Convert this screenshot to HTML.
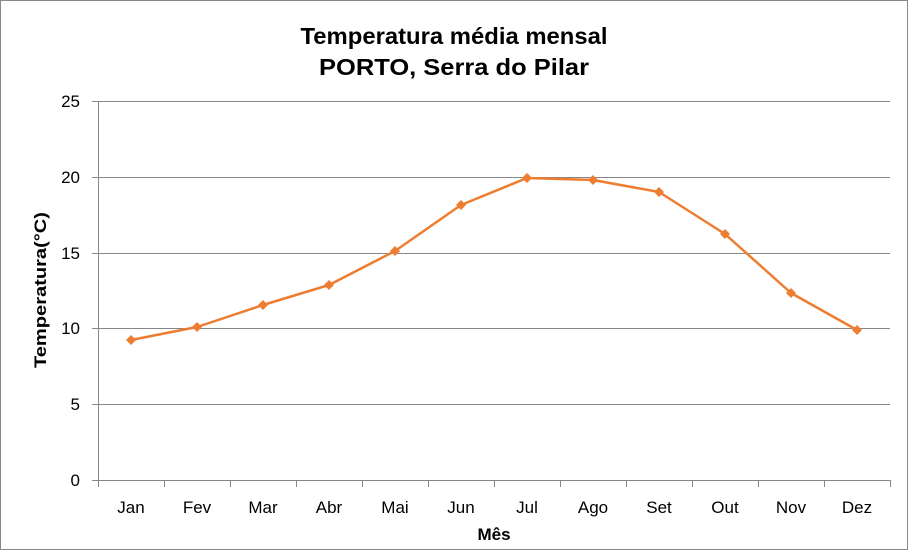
<!DOCTYPE html>
<html><head><meta charset="utf-8"><style>
html,body{margin:0;padding:0;background:#fff}
svg{display:block}
text{font-family:"Liberation Sans",sans-serif}
</style></head><body>
<svg width="908" height="550" viewBox="0 0 908 550" xmlns="http://www.w3.org/2000/svg">
<rect x="0.5" y="0.5" width="907" height="549" fill="#fff" stroke="#888" stroke-width="1"/>
<text x="454" y="44" text-anchor="middle" font-size="23" font-weight="bold" fill="#000" textLength="307" lengthAdjust="spacingAndGlyphs">Temperatura média mensal</text>
<text x="454" y="75" text-anchor="middle" font-size="23" font-weight="bold" fill="#000" textLength="270" lengthAdjust="spacingAndGlyphs">PORTO, Serra do Pilar</text>
<g stroke="#878787" stroke-width="1">
<line x1="92" y1="101.5" x2="890" y2="101.5"/>
<line x1="92" y1="177.5" x2="890" y2="177.5"/>
<line x1="92" y1="253.5" x2="890" y2="253.5"/>
<line x1="92" y1="328.5" x2="890" y2="328.5"/>
<line x1="92" y1="404.5" x2="890" y2="404.5"/>
<line x1="92" y1="480.5" x2="890" y2="480.5"/>
<line x1="98.5" y1="101" x2="98.5" y2="480"/>
<line x1="98.5" y1="480" x2="98.5" y2="487"/>
<line x1="164.5" y1="480" x2="164.5" y2="487"/>
<line x1="230.5" y1="480" x2="230.5" y2="487"/>
<line x1="296.5" y1="480" x2="296.5" y2="487"/>
<line x1="362.5" y1="480" x2="362.5" y2="487"/>
<line x1="428.5" y1="480" x2="428.5" y2="487"/>
<line x1="494.5" y1="480" x2="494.5" y2="487"/>
<line x1="560.5" y1="480" x2="560.5" y2="487"/>
<line x1="626.5" y1="480" x2="626.5" y2="487"/>
<line x1="692.5" y1="480" x2="692.5" y2="487"/>
<line x1="758.5" y1="480" x2="758.5" y2="487"/>
<line x1="824.5" y1="480" x2="824.5" y2="487"/>
<line x1="890.5" y1="480" x2="890.5" y2="487"/>
</g>
<g font-size="17" fill="#000" text-anchor="end">
<text x="80" y="107">25</text><text x="80" y="183">20</text><text x="80" y="259">15</text>
<text x="80" y="334">10</text><text x="80" y="410">5</text><text x="80" y="486">0</text>
</g>
<g font-size="17" fill="#000" text-anchor="middle">
<text x="131" y="513">Jan</text><text x="197" y="513">Fev</text><text x="263" y="513">Mar</text>
<text x="329" y="513">Abr</text><text x="395" y="513">Mai</text><text x="461" y="513">Jun</text>
<text x="527" y="513">Jul</text><text x="593" y="513">Ago</text><text x="659" y="513">Set</text>
<text x="725" y="513">Out</text><text x="791" y="513">Nov</text><text x="857" y="513">Dez</text>
</g>
<text x="494" y="540" text-anchor="middle" font-size="17" font-weight="bold">Mês</text>
<text transform="translate(46,290) rotate(-90)" text-anchor="middle" font-size="17" font-weight="bold" textLength="156" lengthAdjust="spacingAndGlyphs">Temperatura(°C)</text>
<polyline fill="none" stroke="#ED7D31" stroke-width="2.5" stroke-linejoin="round"
points="131,340 197,327 263,305 329,285 395,251 461,205 527,178 593,180 659,192 725,234 791,293 857,330"/>
<g fill="#ED7D31">
<path d="M131,335 l5,5 -5,5 -5,-5z"/><path d="M197,322 l5,5 -5,5 -5,-5z"/>
<path d="M263,300 l5,5 -5,5 -5,-5z"/><path d="M329,280 l5,5 -5,5 -5,-5z"/>
<path d="M395,246 l5,5 -5,5 -5,-5z"/><path d="M461,200 l5,5 -5,5 -5,-5z"/>
<path d="M527,173 l5,5 -5,5 -5,-5z"/><path d="M593,175 l5,5 -5,5 -5,-5z"/>
<path d="M659,187 l5,5 -5,5 -5,-5z"/><path d="M725,229 l5,5 -5,5 -5,-5z"/>
<path d="M791,288 l5,5 -5,5 -5,-5z"/><path d="M857,325 l5,5 -5,5 -5,-5z"/>
</g>
</svg>
</body></html>
